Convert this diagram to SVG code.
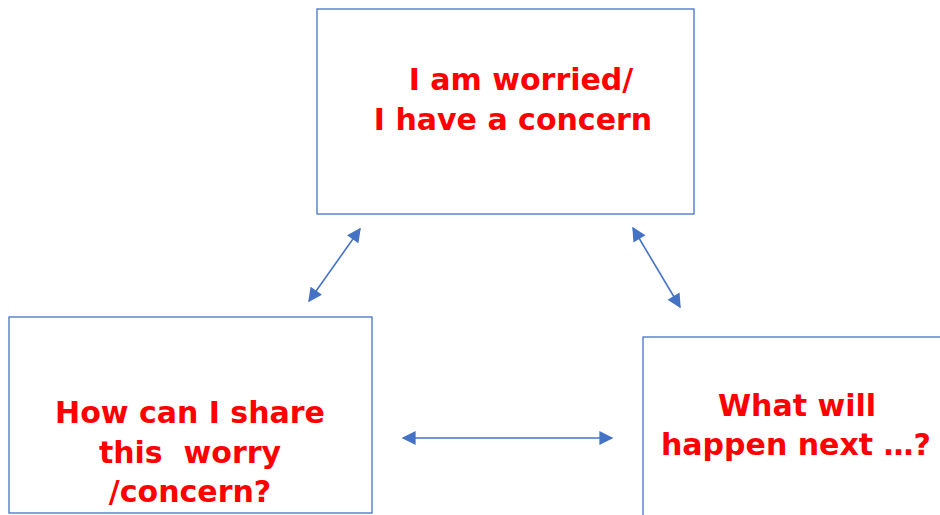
<svg xmlns="http://www.w3.org/2000/svg" width="940" height="515" viewBox="0 0 940 515">
<defs>
<style>
.box{fill:#fff;stroke:#4472C4;stroke-width:1.3}
.t{font-family:"DejaVu Sans","Liberation Sans",sans-serif;font-weight:bold;font-size:30px;fill:#FF0000;text-anchor:middle}
.c{stroke:#4472C4;stroke-width:1.6;fill:none;marker-start:url(#ah);marker-end:url(#ah)}
</style>
<marker id="ah" viewBox="0 0 10 10" refX="9" refY="5" markerWidth="15" markerHeight="14" markerUnits="userSpaceOnUse" orient="auto-start-reverse">
<path d="M0,0 L10,5 L0,10 z" fill="#4472C4"/>
</marker>
</defs>
<rect width="940" height="515" fill="#fff"/>
<g id="node-top">
<rect class="box" x="317" y="9" width="377" height="205"/>
<text class="t" x="521" y="90">I am worried/</text>
<text class="t" x="513" y="130">I have a concern</text>
</g>
<g id="node-left">
<rect class="box" x="9" y="317" width="363" height="196"/>
<text class="t" x="190" y="423">How can I share</text>
<text class="t" x="190" y="463" xml:space="preserve">this  worry</text>
<text class="t" x="190" y="502">/concern?</text>
</g>
<g id="node-right">
<rect class="box" x="643" y="337" width="310" height="190"/>
<text class="t" x="797" y="416">What will</text>
<text class="t" x="796" y="455">happen next …?</text>
</g>
<g id="connectors">
<line class="c" x1="360" y1="229" x2="309" y2="301"/>
<line class="c" x1="633" y1="228" x2="680" y2="307"/>
<line class="c" x1="403" y1="438" x2="612" y2="438"/>
</g>
</svg>
